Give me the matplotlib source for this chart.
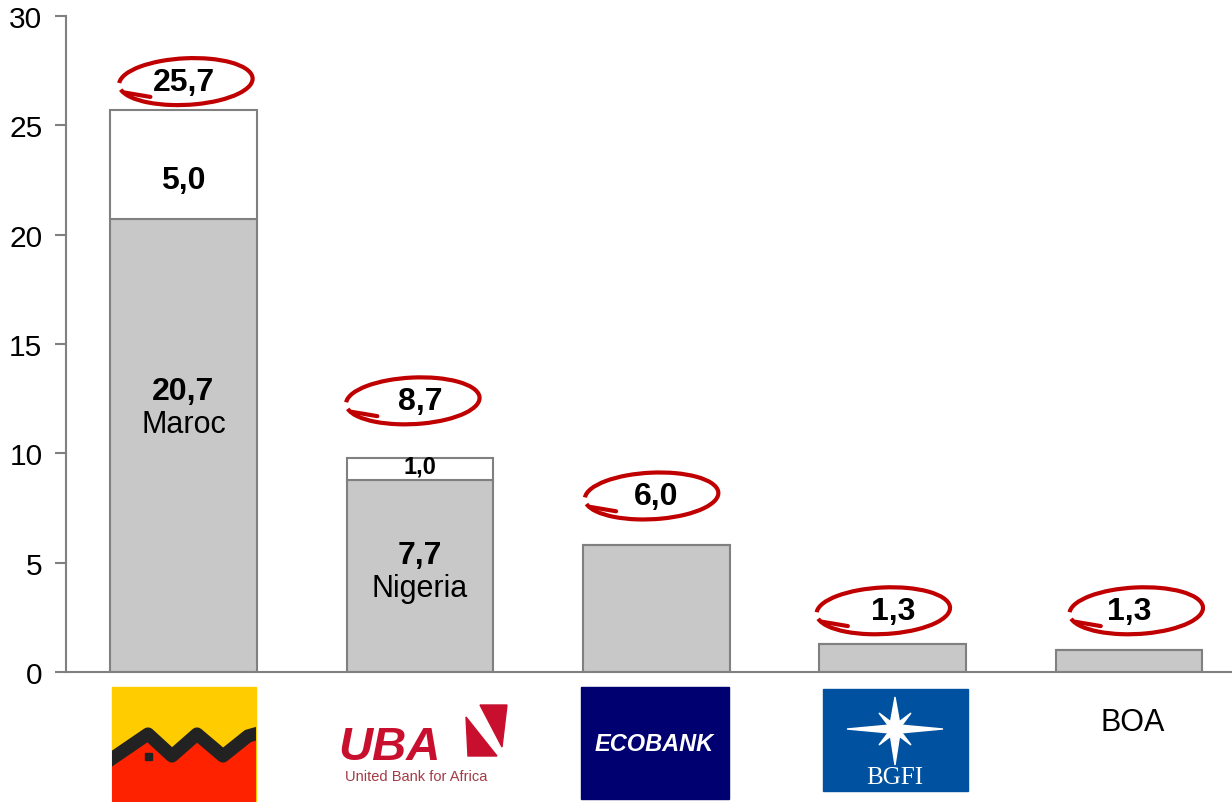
import matplotlib
matplotlib.use('Agg')
import matplotlib.pyplot as plt
from matplotlib.patches import Arc, Rectangle, Polygon

plt.rcParams['font.family'] = ['Liberation Sans', 'DejaVu Sans']

banks = ['Attijariwafa', 'UBA', 'Ecobank', 'BGFI', 'BOA']
base_values = [20.7, 8.8, 5.8, 1.3, 1.0]
top_values = [5.0, 1.0, 0.0, 0.0, 0.0]
total_labels = ['25,7', '8,7', '6,0', '1,3', '1,3']
total_label_y = [27.0, 12.4, 8.05, 2.8, 2.8]
base_labels = ['20,7', '7,7', '', '', '']
country_labels = ['Maroc', 'Nigeria', '', '', '']
top_labels = ['5,0', '1,0', '', '', '']

GRAY = '#808080'
FILL = '#c8c8c8'
RED = '#c00000'

fig = plt.figure(figsize=(12.32, 8.03), dpi=100)
ax = fig.add_axes([66 / 1232, 1 - 673 / 803, 1 - 66 / 1232, (673 - 17) / 803])

x = list(range(len(banks)))
ax.bar(x, base_values, width=0.62, color=FILL, edgecolor=GRAY, linewidth=1.5, zorder=2)
ax.bar(x, top_values, width=0.62, bottom=base_values, color='white',
       edgecolor=GRAY, linewidth=1.5, zorder=2)

ax.set_xlim(-0.497, 4.435)
ax.set_ylim(0, 30)
ax.set_yticks(range(0, 31, 5))
ax.set_xticks([])
ax.tick_params(axis='y', direction='out', length=8, width=1.5, color=GRAY,
               labelsize=21.5, pad=9)
for s in ['top', 'right']:
    ax.spines[s].set_visible(False)
for s in ['left', 'bottom']:
    ax.spines[s].set_color(GRAY)
    ax.spines[s].set_linewidth(1.5)

# labels inside bars
for i in x:
    if base_labels[i]:
        b = base_values[i]
        ax.text(i, b * 0.63 - 0.2, base_labels[i], ha='center', va='center',
                fontsize=23, fontweight='bold')
        ax.text(i, b * 0.63 - 1.7, country_labels[i], ha='center', va='center',
                fontsize=22)
    if top_labels[i]:
        mid = base_values[i] + top_values[i] / 2
        if top_values[i] > 2:
            ax.text(i, mid - 0.7, top_labels[i], ha='center', va='center',
                    fontsize=23, fontweight='bold')
        else:
            ax.text(i, mid + 0.1, top_labels[i], ha='center', va='center',
                    fontsize=17, fontweight='bold')

# circled totals
offsets = [0.01, -0.03, -0.02, -0.04, 0.03]
for i in x:
    cx = i + offsets[i]
    cy = total_label_y[i]
    ax.text(i, cy, total_labels[i], ha='center', va='center',
            fontsize=23, fontweight='bold', zorder=4)
    ax.add_patch(Arc((cx, cy), 0.56, 2.15, angle=-2, theta1=235, theta2=555,
                     color=RED, linewidth=3, zorder=3, clip_on=False))
    ax.plot([cx - 0.26, cx - 0.15], [cy - 0.5, cy - 0.7], color=RED,
            linewidth=3, solid_capstyle='round', zorder=3)

# logos drawn in pixel space below the axis
lg = fig.add_axes([0, 0, 1, 1], zorder=-1)
lg.set_xlim(0, 1232)
lg.set_ylim(803, 0)
lg.axis('off')

# Attijariwafa
box = Rectangle((112, 688), 144, 115, color='#ffcc00')
lg.add_patch(box)
zig_x = [104, 148, 172, 197, 223, 248, 262]
zig_y = [765, 735, 757, 735, 757, 737, 733]
red = Polygon(list(zip(zig_x, zig_y)) + [(262, 803), (104, 803)],
              closed=True, color='#ff2200')
lg.add_patch(red)
red.set_clip_path(box)
band, = lg.plot(zig_x, zig_y, color='#222222', linewidth=9.5, solid_joinstyle='round')
band.set_clip_path(box)
lg.add_patch(Rectangle((145, 754), 7, 7, color='#222222'))

# UBA
lg.text(338, 760, 'UBA', color='#c8102e', fontsize=34, fontweight='bold',
        fontstyle='italic', ha='left', va='baseline')
lg.add_patch(Polygon([(466, 718), (468, 757), (497, 757)], closed=True,
                     color='#c8102e'))
lg.add_patch(Polygon([(480, 706), (507, 706), (502, 748)], closed=True,
                     color='#c8102e'))
lg.text(416, 777, 'United Bank for Africa', color='#a33a44', fontsize=10.5,
        ha='center', va='center')

# Ecobank
lg.add_patch(Rectangle((581, 688), 148, 112, color='#000070'))
lg.text(654, 745, 'ECOBANK', color='white', fontsize=17, fontweight='bold',
        fontstyle='italic', ha='center', va='center')

# BGFI
lg.add_patch(Rectangle((823, 690), 145, 102, color='#0052a0'))
sx, sy = 895, 730
lg.add_patch(Polygon([(sx - 48, sy), (sx - 5, sy - 4), (sx, sy - 32), (sx + 5, sy - 4),
                      (sx + 48, sy), (sx + 5, sy + 4), (sx, sy + 36), (sx - 5, sy + 4)],
                     closed=True, color='white'))
d = 16
lg.add_patch(Polygon([(sx - d, sy - d), (sx, sy - 4), (sx + d, sy - d), (sx + 4, sy),
                      (sx + d, sy + d), (sx, sy + 4), (sx - d, sy + d), (sx - 4, sy)],
                     closed=True, color='white'))
lg.text(895, 778, 'BGFI', color='white', fontsize=18, family='Liberation Serif',
        ha='center', va='center')

# BOA
lg.text(1133, 723, 'BOA', color='black', fontsize=22, ha='center', va='center')

fig.savefig('out.png', dpi=100)
